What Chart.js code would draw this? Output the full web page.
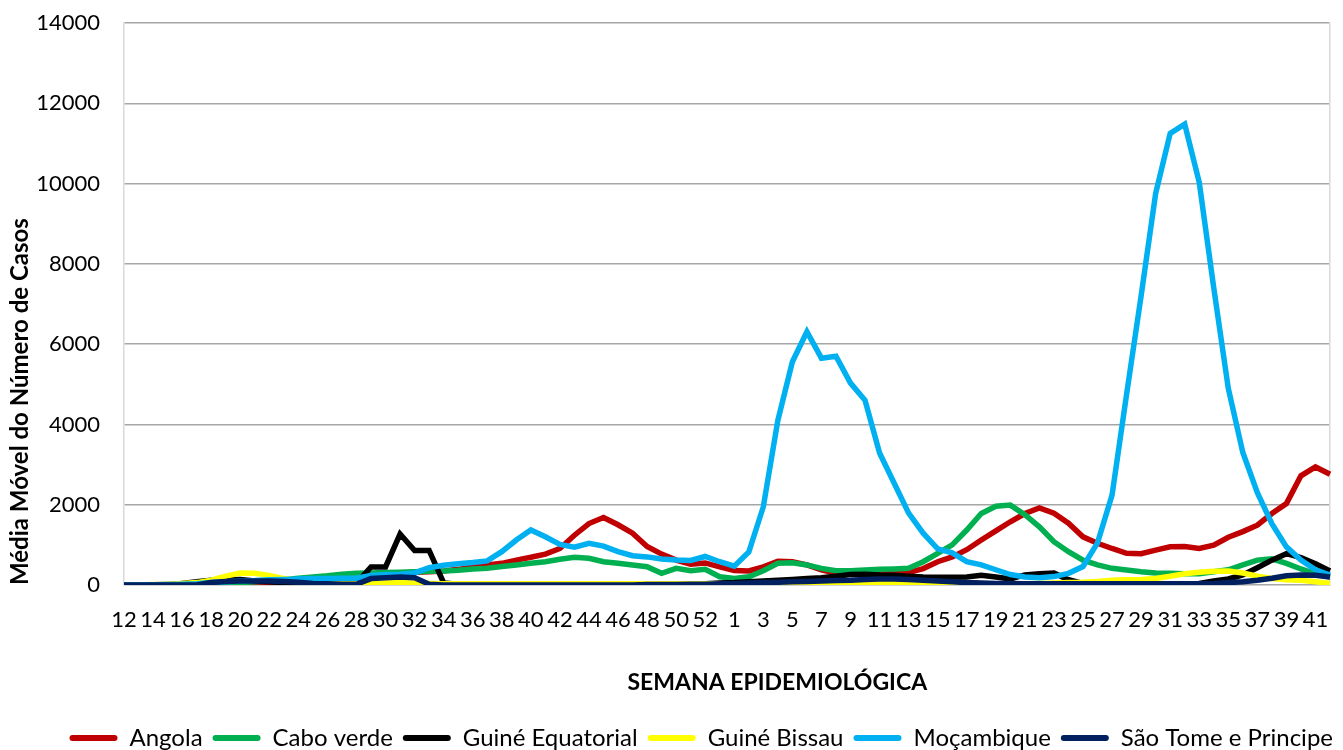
<!DOCTYPE html>
<html>
<head>
<meta charset="utf-8">
<script src="https://cdn.jsdelivr.net/npm/chart.js@4"></script>
<style>
  html, body { margin: 0; padding: 0; background: #fff; }
  #wrap { width: 1343px; height: 750px; }
</style>
</head>
<body>
<div id="wrap"><canvas id="myChart" width="1343" height="750"></canvas></div>
<script>
// semanas epidemiologicas: 12..53 (2020) e 1..42 (2021)
const weeks = [12,13,14,15,16,17,18,19,20,21,22,23,24,25,26,27,28,29,30,31,32,33,34,35,36,37,38,39,40,41,42,43,44,45,46,47,48,49,50,51,52,53,
  1,2,3,4,5,6,7,8,9,10,11,12,13,14,15,16,17,18,19,20,21,22,23,24,25,26,27,28,29,30,31,32,33,34,35,36,37,38,39,40,41,42];

const angola = [0,0,5,10,20,20,20,20,20,30, 40,60,80,100,120,150,180,220,260,300,
  320,330,350,390,450,500,540,620,690,770, 910,1240,1530,1680,1500,1290,960,770,620,520,
  550,450,360,350,450,590,580,500,380,290, 270,300,330,330,310,410,580,700,880,1120,
  1350,1575,1780,1920,1790,1540,1200,1040,910,790, 780,870,950,960,910,990,1190,1330,1490,1780,
  2030,2720,2940,2760];
const caboVerde = [0,0,0,0,0,10,30,50,60,80, 100,130,170,200,230,270,290,300,310,320,
  330,340,350,370,400,420,460,500,540,580, 640,690,665,580,540,500,455,290,415,355,
  390,205,165,205,355,540,555,500,415,355, 355,375,390,400,415,580,790,1000,1370,1780,
  1960,1990,1750,1450,1080,830,620,500,415,375, 330,300,290,280,280,330,380,500,620,650,
  540,400,280,200];
const guineEq = [0,0,0,0,40,80,120,130,140,100, 80,60,40,30,30,30,50,450,450,1270,
  860,860,50,20,20,10,10,10,10,10, 10,10,10,10,10,10,10,10,10,20,
  30,50,60,80,100,120,140,160,180,220, 260,270,250,240,220,200,190,190,200,240,
  200,150,250,280,300,130,40,30,20,20, 20,20,20,30,40,100,150,250,430,620,
  780,680,530,350];
const guineBissau = [0,0,10,20,40,60,120,220,300,290, 240,160,110,80,60,50,40,40,50,60,
  50,40,30,30,30,30,30,30,30,30, 30,30,30,30,30,30,30,30,30,30,
  30,30,30,30,30,30,40,40,40,50, 50,50,50,50,50,40,40,30,30,20,
  20,20,30,40,50,60,70,90,120,130, 140,160,220,280,320,340,350,300,220,160,
  130,120,80,40];
const mocambique = [0,0,5,10,20,30,60,80,100,110, 130,140,150,160,160,170,170,240,260,270,
  300,430,490,530,560,600,830,1120,1370,1200, 1010,940,1040,970,830,730,700,650,620,610,
  710,580,470,820,1950,4100,5560,6310,5650,5700, 5030,4600,3290,2540,1790,1290,900,800,580,500,
  380,260,200,180,210,290,460,1050,2240,4750, 7200,9750,11250,11480,10030,7400,4900,3300,2300,1530,
  950,620,380,250];
const saoTome = [0,0,0,0,0,0,60,90,100,100, 100,90,70,40,30,20,20,160,180,200,
  180,20,0,0,0,0,0,0,0,0, 0,0,0,0,0,0,10,10,10,20,
  20,30,40,50,60,70,80,90,100,110, 120,140,150,150,140,120,100,80,60,50,
  40,40,30,30,30,30,30,30,30,30, 30,30,30,30,30,40,60,80,120,170,
  230,250,240,200];

const seriesNames = ["Angola", "Cabo verde", "Guiné Equatorial", "Guiné Bissau", "Moçambique", "São Tome e Principe"];
const seriesData = [angola, caboVerde, guineEq, guineBissau, mocambique, saoTome];
const seriesColors = ["#C00000", "#00B050", "#000000", "#FFFF00", "#00B0F0", "#002060"];

const FONT = "Lato, 'Open Sans', sans-serif";

const datasets = seriesNames.map(function (name, i) {
  return {
    label: name,
    data: seriesData[i],
    borderColor: seriesColors[i],
    backgroundColor: seriesColors[i],
    borderWidth: 5.5,
    pointRadius: 0,
    tension: 0,
    fill: false,
    // excel pinta a ultima serie por cima
    order: seriesNames.length - i
  };
});

new Chart("myChart", {
  type: "line",
  data: { labels: weeks, datasets: datasets },
  options: {
    responsive: false,
    animation: false,
    layout: { padding: { top: 23, left: 0, right: 0, bottom: -10 } },
    plugins: {
      tooltip: { enabled: false },
      legend: {
        position: "bottom",
        align: "end",
        labels: {
          font: { family: FONT, size: 24 },
          color: "#000",
          boxWidth: 48,
          boxHeight: 6,
          padding: 10,
          useBorderRadius: true,
          borderRadius: 3,
          generateLabels: function (chart) {
            return chart.data.datasets.map(function (ds, i) {
              return {
                text: ds.label,
                fillStyle: ds.borderColor,
                strokeStyle: ds.borderColor,
                lineWidth: 0,
                datasetIndex: i,
                borderRadius: 3
              };
            });
          }
        }
      }
    },
    scales: {
      x: {
        offset: false,
        grid: { display: false, drawTicks: false },
        border: { display: false },
        ticks: {
          autoSkip: false,
          maxRotation: 0,
          minRotation: 0,
          padding: 22,
          color: "#000",
          font: { family: FONT, size: 22 },
          callback: function (value, index) {
            return index % 2 === 0 ? String(weeks[index]) : "";
          }
        },
        title: {
          display: true,
          text: "                  SEMANA EPIDEMIOLÓGICA",
          color: "#000",
          font: { family: FONT, size: 23, weight: "bold" },
          padding: { top: 0, bottom: 20 }
        },
        afterFit: function (scale) {
          scale.height = 131;
          scale.paddingLeft = 0;
          scale.paddingRight = 0;
        }
      },
      y: {
        min: 0,
        max: 14000,
        ticks: {
          stepSize: 2000,
          padding: 24,
          color: "#000",
          font: { family: FONT, size: 22 },
          callback: function (value) { return String(value); }
        },
        grid: { color: "#a6a6a6", lineWidth: 1.5, drawTicks: false },
        border: { display: true, color: "#d9d9d9", width: 1.5 },
        title: {
          display: true,
          text: "Média Móvel do Número de Casos",
          align: "start",
          color: "#000",
          font: { family: FONT, size: 24, weight: "bold" },
          padding: { top: 6, bottom: 0 }
        },
        afterFit: function (scale) {
          scale.width = 124;
          scale.paddingTop = 0;
          scale.paddingBottom = 0;
        }
      },
      y2: {
        position: "right",
        min: 0,
        max: 14000,
        ticks: { display: false },
        grid: { display: false, drawTicks: false },
        border: { display: true, color: "#d9d9d9", width: 1.5 },
        afterFit: function (scale) {
          scale.width = 13;
          scale.paddingTop = 0;
          scale.paddingBottom = 0;
        }
      }
    }
  }
});
</script>
</body>
</html>
